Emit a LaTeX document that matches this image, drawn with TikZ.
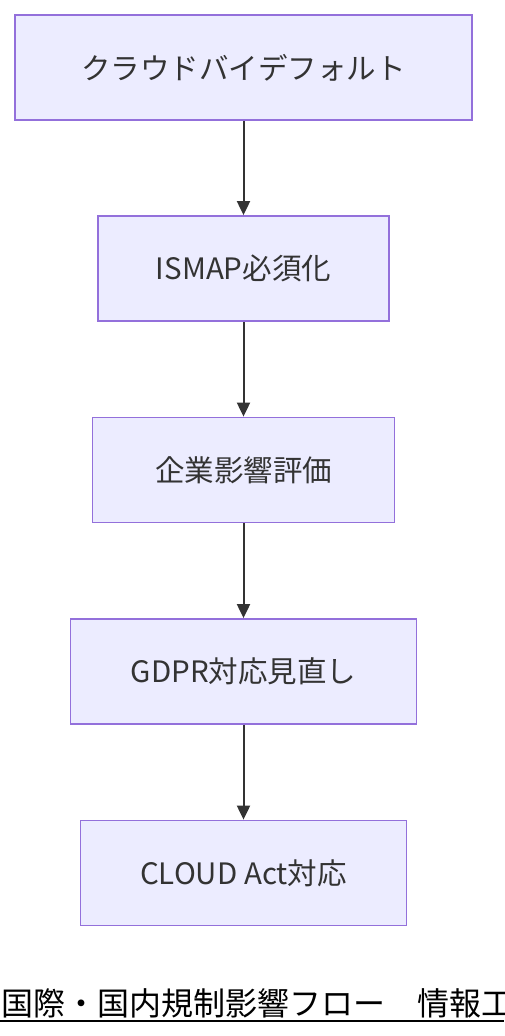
\documentclass[tikz,border=0pt]{standalone}
\usepackage{fontspec}
\newfontfamily\jp{Noto Sans CJK JP}
\usetikzlibrary{arrows.meta}
\definecolor{boxfill}{HTML}{ECECFF}
\definecolor{boxline}{HTML}{9370DB}
\definecolor{ink}{HTML}{333333}
\tikzset{
  flowbox/.style={draw=boxline, fill=boxfill, line width=1.8pt, minimum height=105pt,
    inner sep=0pt, font=\jp\fontsize{29.5}{33}\selectfont, text=ink},
  flowarrow/.style={draw=ink, line width=2pt, -{Triangle[length=14pt,width=13pt]}},
}
\begin{document}
\begin{tikzpicture}[x=1pt,y=-1pt]
\useasboundingbox (0,0) rectangle (504,1036);
\node[flowbox, minimum width=457pt] (a) at (243.5,67.5) {クラウドバイデフォルト};
\node[flowbox, minimum width=291pt] (b) at (243.5,268.5) {ISMAP必須化};
\node[flowbox, minimum width=302pt] (c) at (243.5,470) {企業影響評価};
\node[flowbox, minimum width=346pt] (d) at (243.5,671.5) {GDPR対応見直し};
\node[flowbox, minimum width=326pt] (e) at (243.5,873) {CLOUD Act対応};
\draw[flowarrow] (a) -- (b);
\draw[flowarrow] (b) -- (c);
\draw[flowarrow] (c) -- (d);
\draw[flowarrow] (d) -- (e);
\node[anchor=base west, inner sep=0pt, font=\jp\fontsize{32}{36}\selectfont, text=black] (t) at (1,1015) {国際・国内規制影響フロー　情報工};
\coordinate (ul) at (0,1020.5);
\coordinate (ur) at (504,1020.5);
\draw[black, line width=2pt] (ul) -- (ur);
\end{tikzpicture}
\end{document}
